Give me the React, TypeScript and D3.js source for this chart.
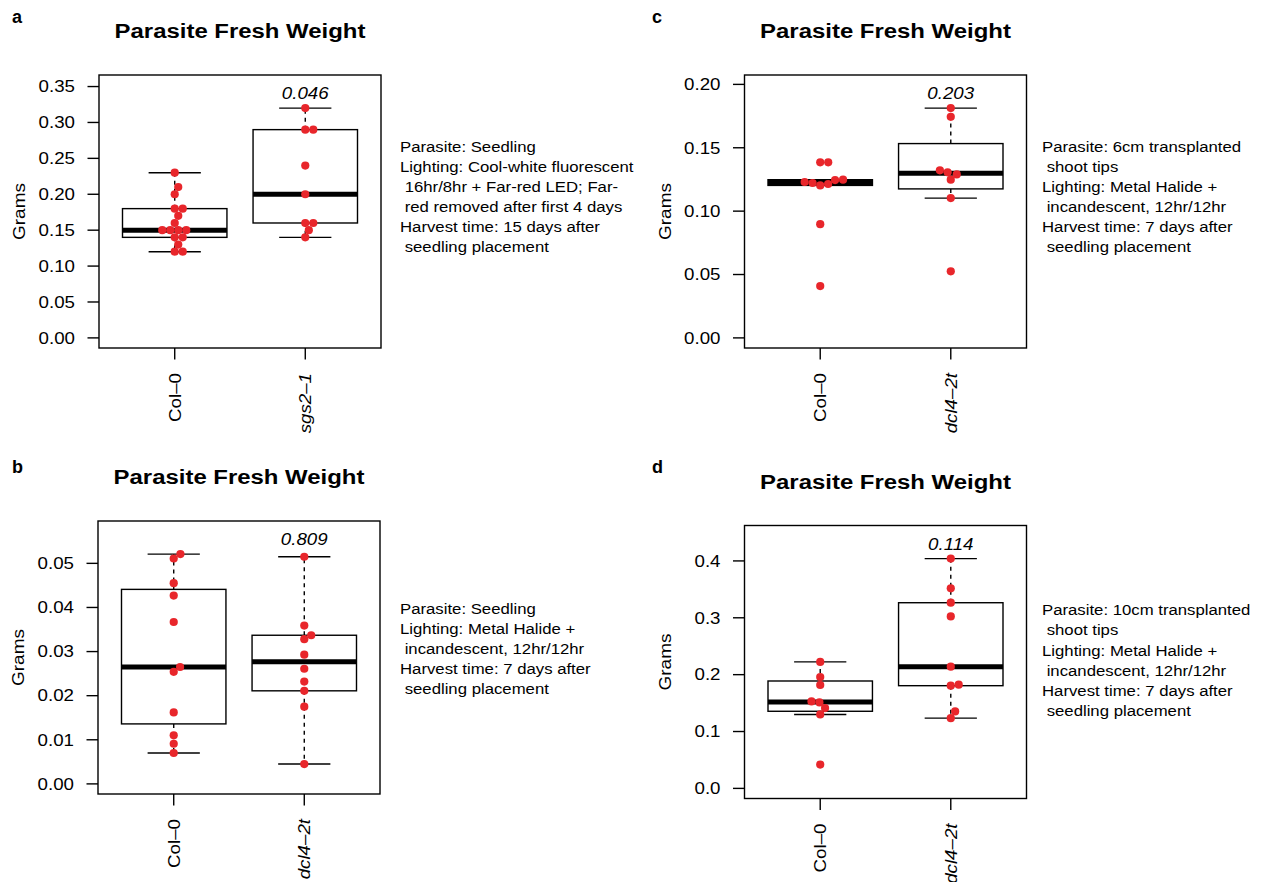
import React, { useRef, useEffect } from 'react';
import * as d3 from 'd3';

// ---- data ----
const catsA = ['Col–0', 'sgs2–1'];
const colA = [0.23, 0.21, 0.20, 0.18, 0.18, 0.17, 0.16, 0.15, 0.15, 0.15, 0.15, 0.14, 0.14, 0.13, 0.12, 0.12];
const mutA = [0.32, 0.29, 0.29, 0.24, 0.20, 0.16, 0.16, 0.15, 0.14];
const ticksA = [0, 0.05, 0.1, 0.15, 0.2, 0.25, 0.3, 0.35];
const pA = '0.046';
const noteA = [
  'Parasite: Seedling',
  'Lighting: Cool-white fluorescent',
  ' 16hr/8hr + Far-red LED; Far-',
  ' red removed after first 4 days',
  'Harvest time: 15 days after',
  ' seedling placement',
];

const catsB = ['Col–0', 'dcl4–2t'];
const colB = [0.0521, 0.0511, 0.0455, 0.0427, 0.0367, 0.0265, 0.0254, 0.0162, 0.0110, 0.0091, 0.0070];
const mutB = [0.0515, 0.0359, 0.0337, 0.0328, 0.0293, 0.0261, 0.0232, 0.0211, 0.0175, 0.0045];
const ticksB = [0, 0.01, 0.02, 0.03, 0.04, 0.05];
const pB = '0.809';
const noteB = [
  'Parasite: Seedling',
  'Lighting: Metal Halide +',
  ' incandescent, 12hr/12hr',
  'Harvest time: 7 days after',
  ' seedling placement',
];

const catsC = ['Col–0', 'dcl4–2t'];
const colC = [0.1385, 0.1385, 0.1248, 0.1245, 0.1230, 0.1222, 0.1214, 0.1203, 0.0897, 0.0409];
const mutC = [0.1813, 0.1744, 0.1322, 0.1306, 0.1290, 0.1248, 0.1103, 0.0525];
const ticksC = [0, 0.05, 0.1, 0.15, 0.2];
const pC = '0.203';
const noteC = [
  'Parasite: 6cm transplanted',
  ' shoot tips',
  'Lighting: Metal Halide +',
  ' incandescent, 12hr/12hr',
  'Harvest time: 7 days after',
  ' seedling placement',
];

const catsD = ['Col–0', 'dcl4–2t'];
const colD = [0.2224, 0.1959, 0.1818, 0.1529, 0.1512, 0.1412, 0.1300, 0.0418];
const mutD = [0.4041, 0.3518, 0.3265, 0.3024, 0.2141, 0.1824, 0.1806, 0.1353, 0.1235];
const ticksD = [0, 0.1, 0.2, 0.3, 0.4];
const pD = '0.114';
const noteD = [
  'Parasite: 10cm transplanted',
  ' shoot tips',
  'Lighting: Metal Halide +',
  ' incandescent, 12hr/12hr',
  'Harvest time: 7 days after',
  ' seedling placement',
];

const FONT = "'Liberation Sans', Arial, Helvetica, sans-serif";
const RED = '#e8262b';
const W = 282;
const H = 273;

// R's boxplot.stats (fivenum hinges, 1.5 IQR whiskers)
function boxStats(vals: number[]) {
  const s = [...vals].sort(d3.ascending);
  const n = s.length;
  const n4 = Math.floor((n + 3) / 2) / 2;
  const d = [1, n4, (n + 1) / 2, n + 1 - n4, n];
  const f = d.map(k => 0.5 * (s[Math.floor(k) - 1] + s[Math.ceil(k) - 1]));
  const iqr = f[3] - f[1];
  const lo = d3.min(s.filter(v => v >= f[1] - 1.5 * iqr)) as number;
  const hi = d3.max(s.filter(v => v <= f[3] + 1.5 * iqr)) as number;
  return { lo, q1: f[1], med: f[2], q3: f[3], hi };
}

// beeswarm "swarm" placement, ascending priority, in pixels
function swarm(vals: number[], y: (v: number) => number, size: number) {
  const order = d3.range(vals.length).sort((i, j) => vals[i] - vals[j] || i - j);
  const placed: { py: number; ox: number }[] = [];
  const out: number[] = new Array(vals.length).fill(0);
  order.forEach(i => {
    const py = y(vals[i]) / size;
    const near = placed.filter(p => Math.abs(py - p.py) < 1)
      .sort((a, b) => Math.abs(a.ox) - Math.abs(b.ox));
    let ox = 0;
    if (near.length) {
      const offs = near.map(p => Math.sqrt(1 - (py - p.py) ** 2));
      const cands = [0, ...near.map((p, k) => p.ox + offs[k]), ...near.map((p, k) => p.ox - offs[k])];
      let best = Infinity;
      cands.forEach(c => {
        const bad = near.some(p => (py - p.py) ** 2 + (c - p.ox) ** 2 < 0.999);
        if (!bad && Math.abs(c) < Math.abs(best)) best = c;
      });
      ox = best;
    }
    placed.push({ py, ox });
    out[i] = ox * size;
  });
  return out;
}

function txt(g: any, x: number, y: number, s: string, o: any) {
  return g.append('text')
    .attr('transform', `translate(${x},${y}) rotate(${o.rot || 0}) scale(${o.sx || 1},1)`)
    .attr('text-anchor', o.anchor || 'start')
    .attr('font-size', o.size)
    .attr('font-weight', o.bold ? 'bold' : 'normal')
    .attr('font-style', o.italic ? 'italic' : 'normal')
    .attr('font-family', FONT)
    .attr('fill', '#000')
    .text(s);
}

function drawPanel(svg: any, p: any) {
  const g = svg.append('g');
  const { left, top } = p;
  const bottom = top + H;
  const all = [...p.series[0], ...p.series[1]];
  const ymax = (d3.max(all) as number) * 1.1;
  const y = d3.scaleLinear().domain([-0.04 * ymax, ymax * 1.04]).range([bottom, top]);
  const x = d3.scaleLinear().domain([0.42, 2.58]).range([left, left + W]);

  // letter + title
  txt(g, p.letterX, p.letterY, p.letter, { size: 18, bold: true });
  txt(g, left + W / 2, top - 37, 'Parasite Fresh Weight', { size: 21, bold: true, anchor: 'middle', sx: 1.14 });

  // boxes
  p.series.forEach((vals: number[], i: number) => {
    const st = boxStats(vals);
    const cx = x(i + 1);
    const hw = x(0.4) - x(0);
    const cw = x(0.2) - x(0);
    const bg = g.append('g').attr('stroke', '#000').attr('fill', 'none');
    bg.append('line').attr('x1', cx).attr('x2', cx).attr('y1', y(st.q3)).attr('y2', y(st.hi))
      .attr('stroke-width', 1.4).attr('stroke-dasharray', '4,4');
    bg.append('line').attr('x1', cx).attr('x2', cx).attr('y1', y(st.q1)).attr('y2', y(st.lo))
      .attr('stroke-width', 1.4).attr('stroke-dasharray', '4,4');
    [st.hi, st.lo].forEach(v => {
      bg.append('line').attr('x1', cx - cw).attr('x2', cx + cw).attr('y1', y(v)).attr('y2', y(v))
        .attr('stroke-width', 1.4);
    });
    bg.append('rect').attr('x', cx - hw).attr('width', 2 * hw)
      .attr('y', y(st.q3)).attr('height', Math.max(0, y(st.q1) - y(st.q3)))
      .attr('fill', '#fff').attr('stroke-width', 1.4);
    bg.append('line').attr('x1', cx - hw).attr('x2', cx + hw).attr('y1', y(st.med)).attr('y2', y(st.med))
      .attr('stroke-width', 5);
  });

  // points
  p.series.forEach((vals: number[], i: number) => {
    const offs = swarm(vals, y, 8);
    g.append('g').selectAll('circle').data(vals).join('circle')
      .attr('cx', (_: number, k: number) => x(i + 1) + offs[k])
      .attr('cy', (d: number) => y(d))
      .attr('r', 4.1)
      .attr('fill', RED);
  });

  // frame
  g.append('rect').attr('x', left).attr('y', top).attr('width', W).attr('height', H)
    .attr('fill', 'none').attr('stroke', '#000').attr('stroke-width', 1.4);

  // y axis
  p.ticks.forEach((t: number) => {
    g.append('line').attr('x1', left - 11.5).attr('x2', left).attr('y1', y(t)).attr('y2', y(t))
      .attr('stroke', '#000').attr('stroke-width', 1.4);
    txt(g, left - 24, y(t) + 5.8, p.fmt(t), { size: 16, anchor: 'end', sx: 1.17 });
  });
  txt(g, left - 74, top + H / 2, 'Grams', { size: 17, anchor: 'middle', rot: -90, sx: 1.12 });

  // x axis
  p.cats.forEach((c: string, i: number) => {
    const cx = x(i + 1);
    g.append('line').attr('x1', cx).attr('x2', cx).attr('y1', bottom).attr('y2', bottom + 11.5)
      .attr('stroke', '#000').attr('stroke-width', 1.4);
    txt(g, cx + 5.8, bottom + 25, c, { size: 16, anchor: 'end', rot: -90, sx: 1.17, italic: i === 1 });
  });

  // p value
  txt(g, x(2), y(d3.max(all) as number) - 8.7, p.pval, { size: 16, anchor: 'middle', italic: true, sx: 1.17 });

  // notes
  p.note.forEach((line: string, k: number) => {
    txt(g, p.noteX, p.noteY + k * 20.1, line.replace(/^ /, '\u00a0'), { size: 15.5, sx: 1.08 });
  });
}

export default function App() {
  const ref = useRef<SVGSVGElement>(null);

  useEffect(() => {
    const svg = d3.select(ref.current);
    svg.selectAll('*').remove();
    const f2 = d3.format('.2f');
    const f1 = d3.format('.1f');
    const panels = [
      { letter: 'a', letterX: 12, letterY: 23, left: 99, top: 75, cats: catsA, series: [colA, mutA], ticks: ticksA, fmt: f2, pval: pA, note: noteA, noteX: 400, noteY: 151.7 },
      { letter: 'c', letterX: 652, letterY: 23, left: 744.5, top: 75, cats: catsC, series: [colC, mutC], ticks: ticksC, fmt: f2, pval: pC, note: noteC, noteX: 1042, noteY: 151.7 },
      { letter: 'b', letterX: 12, letterY: 473, left: 98, top: 521, cats: catsB, series: [colB, mutB], ticks: ticksB, fmt: f2, pval: pB, note: noteB, noteX: 400, noteY: 614 },
      { letter: 'd', letterX: 652, letterY: 473, left: 744.5, top: 525.5, cats: catsD, series: [colD, mutD], ticks: ticksD, fmt: f1, pval: pD, note: noteD, noteX: 1042, noteY: 615.3 },
    ];
    panels.forEach(p => drawPanel(svg, p));
  }, []);

  return (
    <svg ref={ref} width={1261} height={882}
      style={{ position: 'absolute', left: 0, top: 0, background: '#fff' }} />
  );
}
